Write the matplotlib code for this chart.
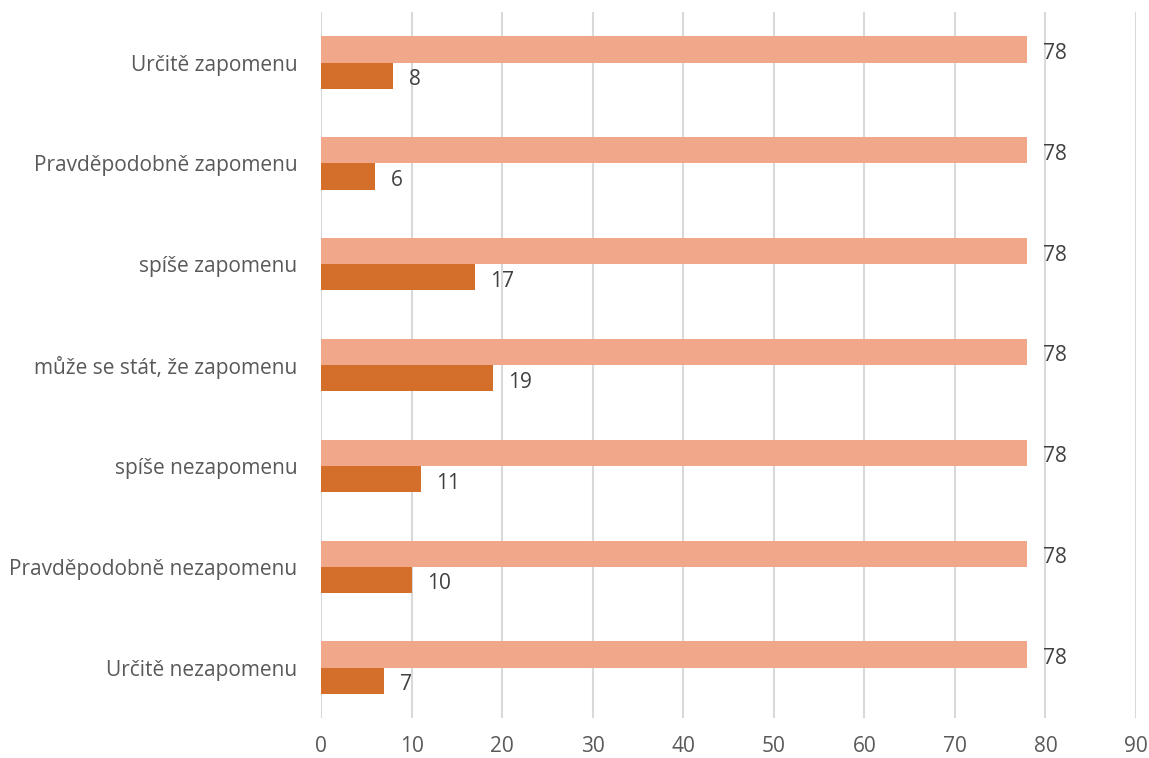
import numpy as np
from matplotlib import pyplot as plt

plt.rcParams['font.family'] = ['Open Sans', 'DejaVu Sans']

categories = ['Určitě zapomenu', 'Pravděpodobně zapomenu', 'spíše zapomenu',
              'může se stát, že zapomenu', 'spíše nezapomenu',
              'Pravděpodobně nezapomenu', 'Určitě nezapomenu']
total = [78, 78, 78, 78, 78, 78, 78]
counts = [8, 6, 17, 19, 11, 10, 7]
xticks = [0, 10, 20, 30, 40, 50, 60, 70, 80, 90]

light = '#F1A78A'
dark = '#D36E2B'
text_col = '#595959'

fig = plt.figure(figsize=(11.49, 7.58), dpi=100)
ax = fig.add_axes([0.2794, 0.0528, 0.7093, 0.9312])

y = np.arange(len(categories))
h = 0.26
ax.barh(y - h / 2, total, height=h, color=light, zorder=2)
ax.barh(y + h / 2, counts, height=h, color=dark, zorder=2)

# popisky hodnot
for yi, v in zip(y, total):
    ax.text(v + 1.7, yi - h / 2 + 0.04, str(v), va='center', ha='left',
            fontsize=15, color='#404040')
for yi, v in zip(y, counts):
    ax.text(v + 1.7, yi + h / 2 + 0.04, str(v), va='center', ha='left',
            fontsize=15, color='#404040')

ax.set_xlim(0, 90)
ax.set_ylim(6.5, -0.5)
ax.set_xticks(xticks)
ax.set_yticks(y)
ax.set_yticklabels(categories)
ax.tick_params(axis='both', length=0, labelsize=15, colors=text_col)
ax.tick_params(axis='y', pad=17)
ax.tick_params(axis='x', pad=13)
ax.grid(axis='x', color='#D9D9D9', linewidth=1.5, zorder=0)
for s in ax.spines.values():
    s.set_visible(False)

fig.savefig('out.png', dpi=100)
